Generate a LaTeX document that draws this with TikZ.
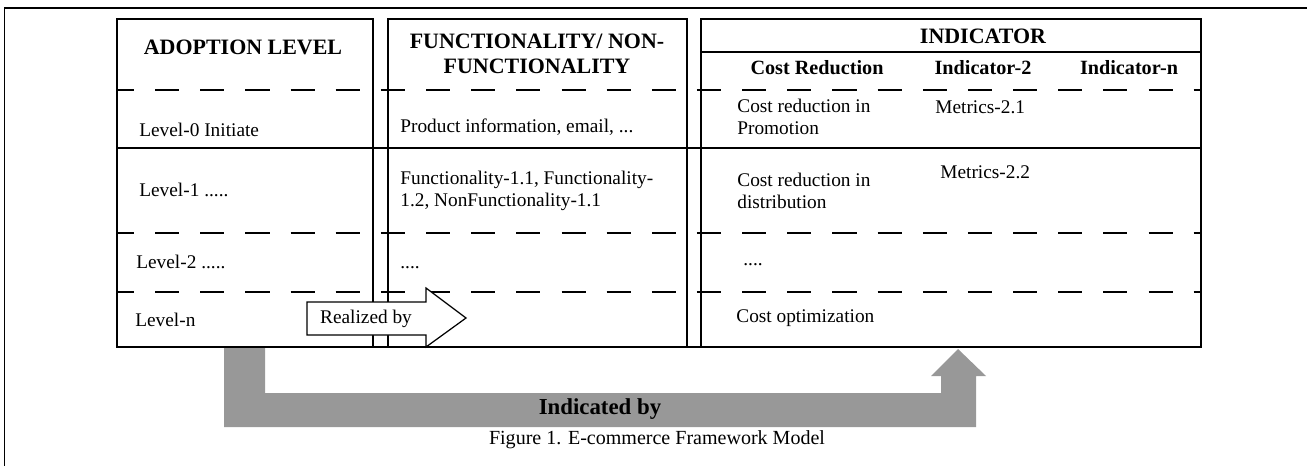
\documentclass[tikz,border=0pt]{standalone}
\usepackage{fontspec}
\setmainfont{Liberation Serif}
\usetikzlibrary{positioning}
\definecolor{bandgray}{RGB}{152,152,152}
\tikzset{
  hdr/.style={font=\bfseries\fontsize{12.5}{14.2}\selectfont, align=center, inner sep=0pt},
  subhdr/.style={font=\bfseries\fontsize{11.5}{13}\selectfont, inner sep=0pt},
  cell/.style={font=\fontsize{11}{12.5}\selectfont, align=left, anchor=west, inner sep=0pt},
  colbox/.style={draw, line width=0.85pt},
  rowdash/.style={line width=1.1pt, dash pattern=on 13.7pt off 12pt, dash phase=4pt},
  rowrule/.style={line width=0.7pt},
}

\begin{document}
\begin{tikzpicture}[x=0.02cm, y=-0.02cm]
    \useasboundingbox (0,0) rectangle (1307,466);
    \draw[line width=1.1pt] (4.5,466) -- (4.5,8) -- (1307,8);

    % indicated-by band
    \fill[bandgray] (224,347) -- (224,427) -- (976,427) -- (976,376) -- (986,376) -- (958,349)
        -- (931,376) -- (941,376) -- (941,393) -- (265,393) -- (265,347) -- cycle;
    \node[font=\bfseries\fontsize{13}{15}\selectfont] (indby) at (600,409) {Indicated by};
    \node[font=\fontsize{11.4}{13}\selectfont] (caption) at (657,440) {Figure 1. E-commerce Framework Model};

    % columns
    \draw[colbox] (117,19) rectangle (373,347);
    \draw[colbox] (388,19) rectangle (687,347);
    \draw[colbox] (701,19) rectangle (1201,347);
    \draw[colbox] (701,52) -- (1201,52);

    \foreach \y in {148,347} \draw[rowrule] (117,\y) -- (1201,\y);
    \foreach \y in {90,148,233,292,347} \draw[rowdash] (117,\y) -- (1201,\y);

    % headers
    \node[hdr] (adopt) at (243,47) {ADOPTION LEVEL};
    \node[hdr] (func) at (537,54) {FUNCTIONALITY/ NON-\\FUNCTIONALITY};
    \node[hdr] (ind) at (983,36) {INDICATOR};
    \node[subhdr] (costred) at (817,68) {Cost Reduction};
    \node[subhdr] (indtwo) at (983,68) {Indicator-2};
    \node[subhdr] (indn) at (1129,68) {Indicator-n};

    % adoption levels
    \node[cell] (lvlzero) at (139,130) {Level-0 Initiate};
    \node[cell] (lvlone) at (139,190) {Level-1 .....};
    \node[cell] (lvltwo) at (136,262) {Level-2 .....};
    \node[cell] (lvln) at (135,320) {Level-n};

    % functionality
    \node[cell] (fzero) at (400,127) {Product information, email, ...};
    \node[cell] (fone) at (400,191) {Functionality-1.1, Functionality-\\1.2, NonFunctionality-1.1};
    \node[cell] (ftwo) at (400,268) {....};

    % indicators
    \node[cell] (izero) at (737,117) {Cost reduction in\\Promotion};
    \node[cell] (mzero) at (935,107) {Metrics-2.1};
    \node[cell] (ione) at (737,191) {Cost reduction in\\distribution};
    \node[cell] (mone) at (940,172) {Metrics-2.2};
    \node[cell] (itwo) at (743,265) {....};
    \node[cell] (in) at (736,318) {Cost optimization};

    % realized-by arrow
    \draw[fill=white, line width=0.7pt] (307,302) -- (426,302) -- (426,288) -- (466,318)
        -- (426,347) -- (426,335) -- (307,335) -- cycle;
    \node[font=\fontsize{11}{12.5}\selectfont] (realby) at (366,318.5) {Realized by};
\end{tikzpicture}
\end{document}
